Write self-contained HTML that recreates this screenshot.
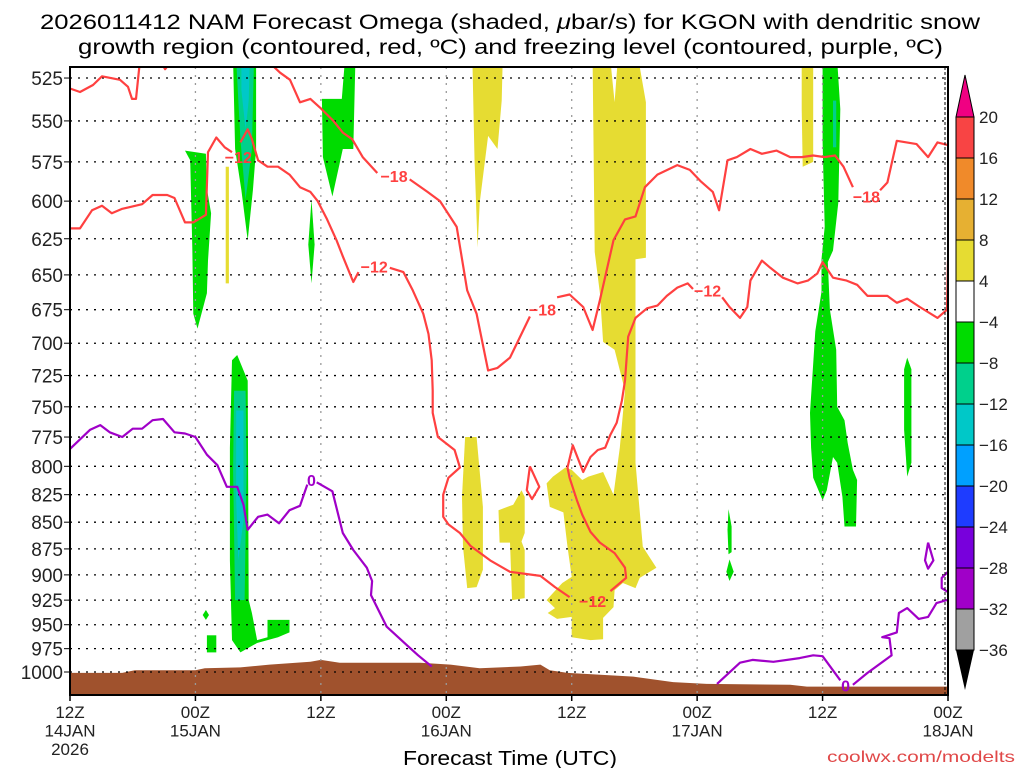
<!DOCTYPE html>
<html><head><meta charset="utf-8"><style>
html,body{margin:0;padding:0;background:#fff;}
svg{display:block;font-family:"Liberation Sans",sans-serif;}
</style></head><body>
<svg id="c" width="1024" height="768" viewBox="0 0 1024 768">
<defs><clipPath id="plotclip"><rect x="70" y="67" width="878" height="628"/></clipPath></defs>
<text x="40" y="29" textLength="940" lengthAdjust="spacingAndGlyphs" font-size="21" fill="#000">2026011412 NAM Forecast Omega (shaded, <tspan font-style="italic">μ</tspan>bar/s) for KGON with dendritic snow</text>
<text x="78" y="54" textLength="865" lengthAdjust="spacingAndGlyphs" font-size="21" fill="#000">growth region (contoured, red, ºC) and freezing level (contoured, purple, ºC)</text>
<g id="shade" clip-path="url(#plotclip)"></g>
<g id="ground" clip-path="url(#plotclip)"></g>
<g id="grid"></g>
<g id="lines" clip-path="url(#plotclip)"></g>
<g id="axes"></g>
<g id="cbar"></g>
<text x="403" y="765" textLength="214" lengthAdjust="spacingAndGlyphs" font-size="20" fill="#000">Forecast Time (UTC)</text>
<text x="827" y="762" textLength="188" lengthAdjust="spacingAndGlyphs" font-size="16" fill="#e04848">coolwx.com/modelts</text>
</svg>
<script>
// ---- data: [forecast hour, pressure hPa] ----
const pressureTicks=[525,550,575,600,625,650,675,700,725,750,775,800,825,850,875,900,925,950,975,1000];
const timeTicks=[0,12,24,36,48,60,72,84];
const timeLabels=[["12Z","14JAN","2026"],["00Z","15JAN"],["12Z"],["00Z","16JAN"],["12Z"],["00Z","17JAN"],["12Z"],["00Z","18JAN"]];
const cbarLabels=["20","16","12","8","4","−4","−8","−12","−16","−20","−24","−28","−32","−36"];
const cbarColors=["#f84444","#f08a2a","#e6b032","#e6dc32","#ffffff","#00dc00","#00d08c","#00c8c8","#00a0ff","#1e3cff","#7800dc","#a000c8","#a0a0a0"];
const groundSurface=[[0,1001],[5,1001],[6.2,998],[12,998],[12.9,996],[16.3,995],[19.1,992],[23,989],[24,987],[25.8,990],[33.5,990],[36.4,992],[39.2,996],[43.1,994],[45,992],[45.9,998],[47.6,1001],[53.9,1005],[57.7,1011],[60.9,1013],[68.9,1014],[70.5,1016],[75.3,1016],[84,1016]];
const green1=[[11,568],[13,570],[13.1,592],[13.5,608],[13.2,640],[13.1,663],[12.2,689],[11.8,678],[11.7,631],[11.5,574]];
const green2Top=[[15.6,515],[17.8,515],[17.8,567],[17.5,593],[17,626],[16.4,593],[15.8,567]];
const mid2Top=[[15.9,515],[17.6,515],[17.4,567],[16.8,599],[16.3,561]];
const teal2Top=[[16.4,515],[17.2,515],[17.1,538],[16.8,555],[16.4,532]];
const green3=[[24.1,537],[26,537],[26.3,515],[27.3,515],[27.1,567],[26.1,567],[25.1,597],[24.2,572]];
const green4=[[23.1,599],[23.4,629],[23.1,656],[22.8,629]];
const yellowThin=[[14.9,578],[15.2,578],[15.2,656],[14.9,656]];
const yellowTop16=[[38.5,515],[41.4,515],[41.3,538],[40.9,567],[40,559],[39.2,601],[39,631],[38.7,573]];
const green2Low=[[15.5,713],[16,709],[17,729],[17.1,925],[17.4,938],[17.9,966],[18.9,963],[18.9,945],[21,945],[21,958],[19.9,963],[17.9,969],[16.3,979],[15.5,966],[15.3,886],[15.3,784]];
const mid2Low=[[15.7,737],[16.8,737],[16.9,803],[16.7,925],[15.8,925],[15.6,803]];
const teal2Low=[[15.9,753],[16.6,753],[16.6,848],[16.1,886],[15.9,830]];
const greenDiamond=[[13,935],[13.3,940],[13,945],[12.7,940]];
const greenRect=[[13.1,961],[14,961],[14,979],[13.1,979]];
const yellowA=[[37.8,775],[38.9,775],[39.5,836],[39.5,895],[38.9,912],[38,913],[37.6,873],[37.5,827]];
const yellowB=[[41,839],[42.4,834],[43.2,821],[43.5,827],[43.5,860],[43.2,868],[43.5,876],[43.5,923],[42.3,925],[42.1,869],[41.1,869]];
const yellowBig=[[50,515],[51.7,515],[52.1,539],[52.4,515],[54.4,515],[55.1,539],[55.1,638],[54.1,639],[54.1,797],[54.8,873],[56.1,893],[54.5,903],[54.1,913],[52.9,908],[52.1,915],[52,932],[51,943],[51,965],[49.8,966],[48,963],[48,942],[46.6,944],[45.7,938],[46.4,933],[45.6,925],[46.2,918],[47.1,908],[48,902],[47.6,873],[47.2,841],[45.9,836],[45.6,815],[46.2,809],[47.4,801],[48,803],[49,812],[49.6,809],[51,805],[52,825],[52.6,784],[53.1,737],[52.1,705],[51,699],[50.7,663],[50.2,634]];
const yellowRight=[[70,515],[71.1,515],[71.1,575],[70.1,578],[70,543]];
const green12Z17=[[72,515],[73.4,515],[73.7,543],[73.5,601],[73,633],[72.5,641],[72.7,675],[73.3,705],[73.4,750],[74.1,761],[74.4,780],[74.9,803],[75.3,812],[75.2,854],[74.1,854],[73.9,827],[73.4,797],[73,792],[72.4,821],[72,830],[71.1,810],[70.9,784],[70.8,755],[71.3,691],[71.9,662],[71.9,639],[72.2,617],[72,563]];
const mid12Z17=[[73,538],[73.3,538],[73.3,566],[73,566]];
const greenRight=[[80.1,711],[80.5,720],[80.5,797],[80.1,809],[79.8,769],[79.8,720]];
const greenSmall1=[[63,838],[63.3,854],[63.3,878],[63,880],[62.9,857]];
const greenSmall2=[[63.1,885],[63.5,897],[63.1,906],[62.8,897]];
// red -18 contour
const red18a=[[0,531],[0.96,533],[2.2,529],[3.06,524],[4.78,526],[5.55,530],[5.93,537],[6.31,537],[6.7,515]];
const red18dip=[[8.6,515],[9.1,520],[9.76,515]];
const red18b1=[[18.85,515],[20.1,522],[21.05,526],[22,539],[23,537],[23.9,542],[25.2,550],[26.1,557],[27,561],[28,572],[29.4,582]];
const red18b2=[[32.5,586],[34.2,594],[35.4,600],[37,617],[38,661],[38.9,678],[40,721],[40.9,719],[42.1,711],[44,680]];
const red18b3=[[46.6,666],[47.8,664],[49.1,673],[50,690],[50.7,668],[52,626],[53.1,612],[54.1,610],[55,591],[56.2,583],[58.1,577],[59.3,580],[60.3,587],[61.5,594],[62.1,606],[62.9,574],[63.8,572],[65.1,567],[66.2,570],[67.6,568],[68.9,572],[70,572],[71.1,571],[72.2,572],[73.2,571],[74,578],[74.9,591]];
const red18b4=[[77.5,593],[78.2,588],[79.1,562],[81,564],[82.1,572],[83,563],[84.2,565]];
// red -12 contour
const red12a=[[0,618],[0.96,618],[2.1,606],[3.06,603],[4,608],[5,605],[6.9,602],[7.9,596],[9.3,596],[10,598],[11,614],[11.8,614],[13,609],[13.2,569],[14,560],[14.8,566],[15.5,569]];
const red12b=[[16.3,563],[17,555],[17.4,561],[18,574],[18.9,578],[19.9,578],[21,583],[22,591],[23,594],[23.7,600],[24.6,612],[25.5,626],[26.1,637],[27.1,655],[27.6,648]];
const red12c=[[30.6,645],[31.9,648],[32.8,661],[33.8,678],[34.3,693],[34.6,713],[34.7,737],[34.7,755],[35.2,775],[36.8,786],[37.3,801],[36.2,810],[35.7,825],[35.7,845],[36.2,852],[37.3,860],[38.3,872],[40.2,886],[42.1,897],[45,901],[46.4,912],[47.8,922]];
const red12d=[[51.7,916],[53.2,903],[53.1,893],[52.1,879],[50.7,869],[49.8,859],[49,843],[48.5,830],[47.8,810],[47.6,801],[48.1,782],[49.1,805],[49.8,792],[50.5,786],[51.2,784],[51.7,773],[52.3,763],[52.8,745],[53.1,729],[53.4,695],[54.1,681],[55.2,674],[56.2,672],[57.1,665],[58.1,659],[59.1,656],[59.6,660]];
const red12e=[[62.4,666],[63.1,673],[64.1,681],[64.8,673],[65.1,654],[66.2,640],[67,645],[68.2,652],[69.6,656],[70.6,654],[71.5,649],[72,641],[73,652],[74.3,654],[75.3,657],[76.3,665],[78.2,665],[79.1,670],[80.1,667],[81.3,673],[83,681],[83.9,675],[84,640]];
const red12loop=[[44,800],[44.9,818],[44.2,829],[43.7,821],[44,800]];
// purple 0 contour
const frz1a=[[0,785],[1.9,769],[2.9,765],[3.8,771],[5,775],[6,768],[6.9,768],[7.9,761],[8.9,760],[10,771],[11,772],[12,775],[13.1,790],[14.1,799],[15,818],[16,818],[16.6,834],[17,857],[18,845],[18.9,843],[20,851],[21,839],[22,835],[22.7,816]];
const frz1b=[[23.6,814],[25.1,822],[26.1,860],[27.1,876],[28.4,893],[28.9,906],[28.8,920],[30.3,952],[32.2,971],[33.3,982],[34.6,994]];
const frz2a=[[61.9,1013],[64.1,990],[65.3,987],[67.3,989],[69.8,985],[71.1,982],[72,983],[73.7,1009]];
const frz2b=[[74.9,1014],[76.3,1001],[78.6,982],[78.4,964],[77.7,963],[79.1,958],[79.3,938],[80.1,933],[81.2,944],[82.1,942],[82.9,928],[84.2,924]];
const frzLoop=[[82.1,869],[82.6,886],[82.1,894],[81.8,886],[82.1,869]];
const frzEdge=[[84.1,896],[83.4,903],[83.4,913],[84,917]];
const contourLabels=[["−12",16.1,572,"#ff4040"],["−18",31,584,"#ff4040"],["−12",29.1,644,"#ff4040"],["−18",45.2,675,"#ff4040"],["−12",50,926,"#ff4040"],["−12",61,661,"#ff4040"],["−18",76.2,597,"#ff4040"],["0",23.1,812,"#a000c8"],["0",74.2,1015,"#a000c8"]];

// ---- scales ----
const X0=70,X1=948,Y0=67,Y1=695;
function xs(h){return X0+h*(X1-X0)/84;}
function ys(p){return 672+921.8*Math.log(p/1000);}
const NS="http://www.w3.org/2000/svg";
function mk(tag,attrs,parent){const e=document.createElementNS(NS,tag);for(const k in attrs)e.setAttribute(k,attrs[k]);parent.appendChild(e);return e;}
function pts(a){return a.map(d=>xs(d[0]).toFixed(1)+","+ys(d[1]).toFixed(1)).join(" ");}

const shade=document.getElementById('shade');
const shapes=[[green1,"#00dc00"],[green2Top,"#00dc00"],[mid2Top,"#00d08c"],[teal2Top,"#00c8c8"],[green3,"#00dc00"],[green4,"#00dc00"],[yellowThin,"#e6dc32"],[yellowTop16,"#e6dc32"],[green2Low,"#00dc00"],[mid2Low,"#00d08c"],[teal2Low,"#00c8c8"],[greenDiamond,"#00dc00"],[greenRect,"#00dc00"],[yellowA,"#e6dc32"],[yellowB,"#e6dc32"],[yellowBig,"#e6dc32"],[yellowRight,"#e6dc32"],[green12Z17,"#00dc00"],[mid12Z17,"#00d08c"],[greenRight,"#00dc00"],[greenSmall1,"#00dc00"],[greenSmall2,"#00dc00"]];
shapes.forEach(s=>{
  const e=mk('polygon',{points:pts(s[0]),fill:s[1]},shade);
  
  
});

// ground
const gnd=document.getElementById('ground');
const gpoly=pts(groundSurface)+" "+xs(84).toFixed(1)+","+Y1+" "+xs(0).toFixed(1)+","+Y1;
const ge=mk('polygon',{points:gpoly,fill:"#a0522d"},gnd);



// grid
const grid=document.getElementById('grid');
pressureTicks.forEach(p=>{
  const l=mk('line',{x1:X0,x2:X1,y1:ys(p),y2:ys(p),stroke:"#000","stroke-width":1.3,"stroke-dasharray":"2,6"},grid);
  
  
});
timeTicks.forEach(t=>{
  if(t===0||t===84)return;
  const l=mk('line',{x1:xs(t),x2:xs(t),y1:Y0,y2:Y1,stroke:"#999","stroke-width":1.3,"stroke-dasharray":"2,6"},grid);
  
  
});

// contours
const lines=document.getElementById('lines');
function drawLine(a,color,name){
  const e=mk('polyline',{points:pts(a),fill:"none",stroke:color,"stroke-width":2.2,"stroke-linejoin":"round"},lines);
  
  
}
[red18a,red18dip,red18b1,red18b2,red18b3,red18b4].forEach(a=>drawLine(a,"#ff4040","contour-minus18"));
[red12a,red12b,red12c,red12d,red12e,red12loop].forEach(a=>drawLine(a,"#ff4040","contour-minus12"));
[frz1a,frz1b,frz2a,frz2b,frzLoop,frzEdge].forEach(a=>drawLine(a,"#a000c8","freezing-level"));
contourLabels.forEach(c=>{
  const t=mk('text',{x:xs(c[1]),y:ys(c[2])+6,"text-anchor":"middle","font-size":16,"font-weight":"bold",fill:c[3]},lines);
  t.textContent=c[0];
  
  
});

// axes
const ax=document.getElementById('axes');
const fr=mk('rect',{x:X0,y:Y0,width:X1-X0,height:Y1-Y0,fill:"none",stroke:"#000","stroke-width":2},ax);


mk('line',{x1:X1-3,x2:X1-3,y1:Y0,y2:Y1,stroke:"#000","stroke-width":1,"stroke-dasharray":"3,2"},ax);
pressureTicks.forEach(p=>{
  mk('line',{x1:X0-6,x2:X0,y1:ys(p),y2:ys(p),stroke:"#000","stroke-width":1},ax);
  const t=mk('text',{x:X0-7,y:ys(p)+7,"text-anchor":"end","font-size":19,fill:"#222"},ax);
  t.textContent=p;
  
  
});
timeTicks.forEach((h,i)=>{
  mk('line',{x1:xs(h),x2:xs(h),y1:Y1,y2:Y1+6,stroke:"#000","stroke-width":1.5},ax);
  timeLabels[i].forEach((s,j)=>{
    const t=mk('text',{x:xs(h),y:718+j*18.5,"text-anchor":"middle","font-size":17,fill:"#222"},ax);
    t.textContent=s;
    
    
  });
});

// colorbar
const cb=document.getElementById('cbar');
const CBX=956,CBW=18,CBT=117,CBH=41;
const tri=mk('polygon',{points:`${CBX},${CBT} ${CBX+CBW},${CBT} ${CBX+CBW/2},75`,fill:"#f00082",stroke:"#000","stroke-width":1},cb);


cbarColors.forEach((c,i)=>{
  const r=mk('rect',{x:CBX,y:CBT+i*CBH,width:CBW,height:CBH,fill:c,stroke:"#000","stroke-width":1},cb);
  
  
});
const yb=CBT+cbarColors.length*CBH;
const tri2=mk('polygon',{points:`${CBX},${yb} ${CBX+CBW},${yb} ${CBX+CBW/2},${yb+40}`,fill:"#000"},cb);


cbarLabels.forEach((s,i)=>{
  const t=mk('text',{x:979,y:CBT+i*CBH+6,"font-size":17,fill:"#222"},cb);
  t.textContent=s;
  
  
});
</script>
</body></html>
